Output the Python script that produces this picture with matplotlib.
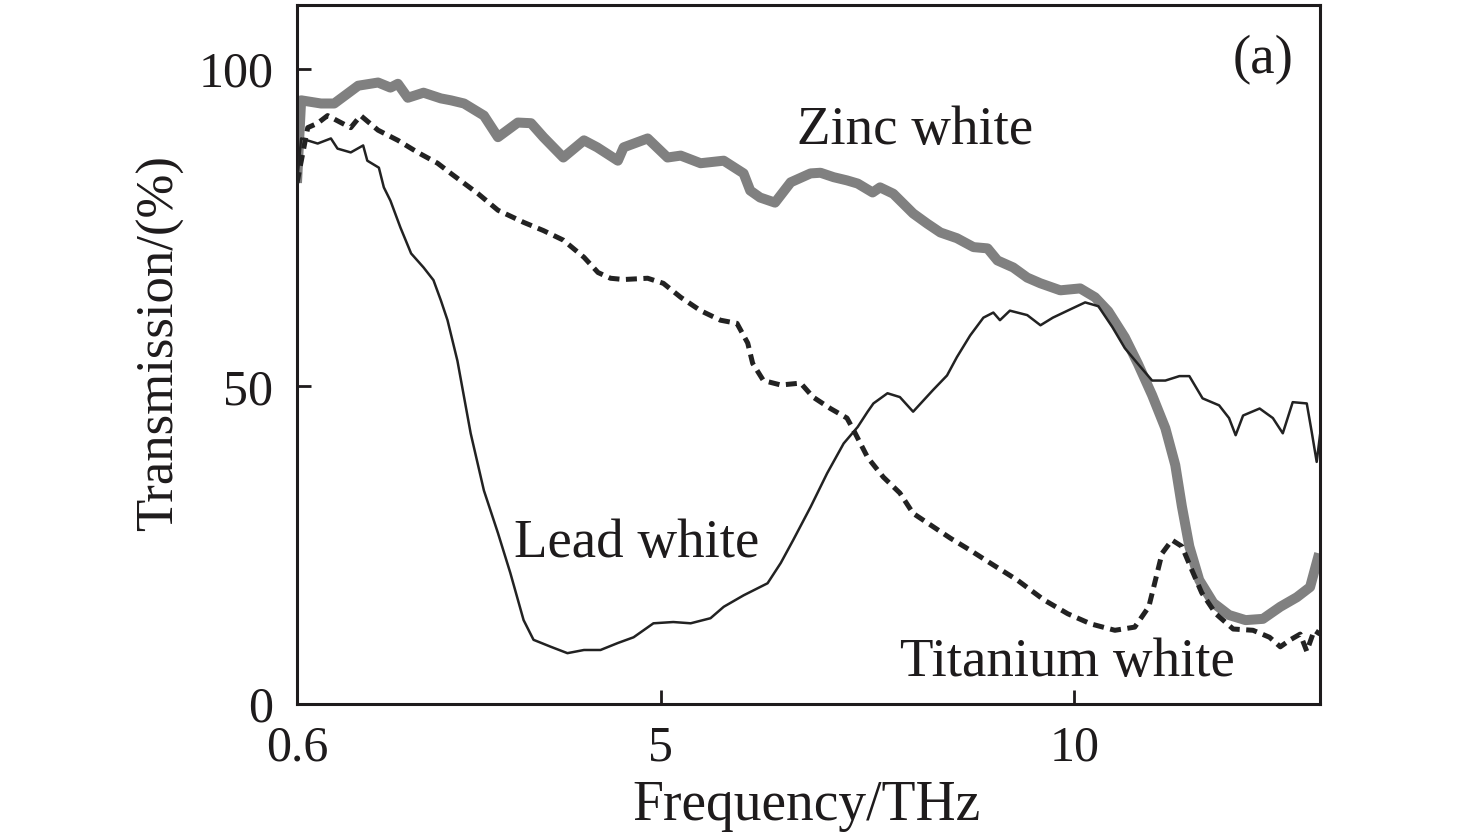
import matplotlib
matplotlib.use("Agg")
import matplotlib.pyplot as plt

# ---------------- data ----------------
zinc_x = [0.60, 0.65, 0.89, 1.05, 1.34, 1.58, 1.73, 1.82, 1.94, 2.13, 2.34, 2.46, 2.62,
          2.86, 3.03, 3.27, 3.43, 3.58, 3.82, 4.07, 4.23, 4.48, 4.55, 4.84, 5.08, 5.24,
          5.48, 5.76, 6.00, 6.08, 6.20, 6.38, 6.57, 6.81, 6.93, 7.09, 7.25, 7.38, 7.56,
          7.65, 7.81, 8.05, 8.22, 8.38, 8.58, 8.78, 8.95, 9.07, 9.26, 9.43, 9.59, 9.83,
          10.07, 10.25, 10.41,
          10.61, 10.77, 10.94, 11.10, 11.22, 11.30, 11.39, 11.51, 11.68, 11.87, 12.07,
          12.28, 12.49, 12.69, 12.85, 12.96]
zinc_y = [82.0, 95.0, 94.5, 94.5, 97.3, 97.8, 97.0, 97.6, 95.4, 96.2, 95.3, 95.0, 94.5,
          92.6, 89.2, 91.5, 91.4, 89.2, 86.0, 88.7, 87.6, 85.5, 87.6, 89.0, 86.0, 86.3,
          85.1, 85.5, 83.5, 80.8, 79.7, 78.9, 82.1, 83.5, 83.6, 82.9, 82.4, 81.9, 80.5,
          81.3, 80.3, 77.2, 75.6, 74.2, 73.3, 71.9, 71.7, 69.8, 68.7, 67.1, 66.2, 65.1,
          65.4, 64.0, 61.8,
          57.7, 53.5, 48.6, 43.4, 37.6, 31.1, 24.8, 19.5, 15.9, 14.0, 13.2,
          13.4, 15.3, 16.8, 18.4, 23.7]

lead_x = [0.60, 0.65, 0.85, 1.01, 1.09, 1.25, 1.40, 1.45, 1.59, 1.65, 1.73, 1.85, 1.98,
          2.13, 2.25, 2.34, 2.42, 2.54, 2.70, 2.86, 3.03, 3.18, 3.34, 3.46, 3.67, 3.87,
          4.07, 4.27, 4.48, 4.67, 4.91, 5.15, 5.36, 5.60, 5.76, 6.00, 6.29, 6.45, 6.60,
          6.81, 7.01, 7.21, 7.38, 7.50, 7.57, 7.74, 7.89, 8.05, 8.29, 8.46, 8.58, 8.74,
          8.90, 9.02, 9.10, 9.22, 9.43, 9.59, 9.74, 9.95, 10.13, 10.29, 10.46, 10.61,
          10.77, 10.94, 11.10, 11.27, 11.39, 11.55, 11.75, 11.87, 11.95, 12.04, 12.24,
          12.40, 12.52, 12.64, 12.81, 12.87, 12.93, 12.97]
lead_y = [82.0, 89.0, 88.2, 89.0, 87.4, 86.8, 87.9, 85.5, 84.4, 81.3, 79.2, 75.0, 70.9,
          68.7, 66.7, 63.5, 60.4, 54.0, 42.6, 33.6, 26.9, 20.6, 13.2, 10.1, 9.0, 8.0,
          8.5, 8.5, 9.6, 10.5, 12.7, 12.9, 12.7, 13.5, 15.3, 17.1, 19.0, 22.2, 25.8,
          31.0, 36.3, 41.0, 43.6, 46.0, 47.3, 48.9, 48.3, 46.0, 49.4, 51.7, 54.6, 58.0,
          60.8, 61.6, 60.4, 61.9, 61.2, 59.6, 60.8, 62.1, 63.2, 62.6, 59.3, 56.0,
          53.5, 50.9, 50.9, 51.6, 51.6, 48.1, 47.0, 45.0, 42.3, 45.4, 46.5,
          45.0, 42.6, 47.5, 47.3, 42.8, 38.1, 42.3]

ti_x = [0.60, 0.73, 0.85, 0.97, 1.13, 1.25, 1.37, 1.58, 1.82, 2.06, 2.30, 2.46, 2.79,
        3.03, 3.34, 3.58, 3.82, 4.07, 4.24, 4.39, 4.55, 4.84, 5.03, 5.24, 5.48, 5.72,
        5.92, 6.05, 6.11, 6.24, 6.45, 6.69, 6.84, 7.05, 7.25, 7.33, 7.50, 7.69, 7.89,
        8.05, 8.50, 8.74, 8.98, 9.31, 9.63, 9.92, 10.20, 10.49, 10.73, 10.90, 10.98,
        11.06, 11.18, 11.30, 11.42, 11.54, 11.71, 11.92, 12.16, 12.36, 12.49, 12.61,
        12.73, 12.81, 12.90, 12.97]
ti_y = [82.0, 90.7, 91.4, 92.6, 91.5, 90.7, 92.6, 90.3, 88.7, 86.8, 85.1, 83.5, 80.3,
        77.7, 75.8, 74.5, 73.0, 70.3, 67.9, 67.0, 66.8, 67.0, 66.2, 64.0, 61.9, 60.4,
        59.9, 56.8, 53.6, 50.9, 50.2, 50.5, 48.3, 46.5, 45.0, 43.1, 38.8, 35.7, 33.2,
        30.0, 26.1, 24.2, 22.2, 19.5, 16.4, 14.2, 12.6, 11.6, 12.1, 15.3, 19.5,
        23.7, 25.8, 24.8, 21.1, 17.5, 14.2, 11.8, 11.6, 10.5, 9.0, 10.1,
        11.0, 8.3, 11.6, 11.0]

x_ticks = [0.6, 5, 10]
x_tick_labels = ["0.6", "5", "10"]
y_ticks = [0, 50, 100]
y_tick_labels = ["0", "50", "100"]

# ---------------- figure ----------------
plt.rcParams['font.family'] = ['Liberation Serif', 'DejaVu Serif']
TXT = '#1e1b1c'

fig = plt.figure(figsize=(14.76, 8.40), dpi=100)
ax = fig.add_axes([297 / 1476, 136 / 840, 1023 / 1476, 699 / 840])

ax.plot(zinc_x, zinc_y, color='#808080', lw=7.2, solid_joinstyle='round',
        solid_capstyle='butt', zorder=2)
ax.plot(lead_x, lead_y, color='#222222', lw=1.8, zorder=3)
ax.plot(ti_x, ti_y, color='#222222', lw=3.6, linestyle=(0, (2.2, 1.3)),
        dash_capstyle='butt', zorder=3)

ax.set_xlim(0.6, 12.97)
ax.set_ylim(0, 110)
ax.set_xticks(x_ticks)
ax.set_xticklabels(x_tick_labels)
ax.set_yticks(y_ticks)
ax.set_yticklabels(y_tick_labels)

ax.tick_params(axis='both', direction='in', length=10, width=2.0, color=TXT,
               labelsize=36, labelcolor=TXT)
ax.tick_params(axis='x', pad=15)
ax.tick_params(axis='y', pad=17)
for s in ax.spines.values():
    s.set_linewidth(2.2)
    s.set_color(TXT)

ax.set_xlabel("Frequency/THz", fontsize=40, color=TXT)
ax.xaxis.label.set_va('baseline')
ax.xaxis.set_label_coords(0.4976, -0.166)
ax.set_ylabel("Transmission/(%)", fontsize=38, color=TXT)
ax.yaxis.label.set_va('baseline')
ax.yaxis.set_label_coords(-0.1212, 0.516)

ax.text(6.65, 88.2, "Zinc white", fontsize=39.5, color=TXT, ha='left', va='baseline')
ax.text(3.22, 23.1, "Lead white", fontsize=39.5, color=TXT, ha='left', va='baseline')
ax.text(7.89, 4.4, "Titanium white", fontsize=39.5, color=TXT, ha='left', va='baseline')
ax.text(12.28, 99.2, "(a)", fontsize=39.5, color=TXT, ha='center', va='baseline')

fig.savefig("out.png", dpi=100)
